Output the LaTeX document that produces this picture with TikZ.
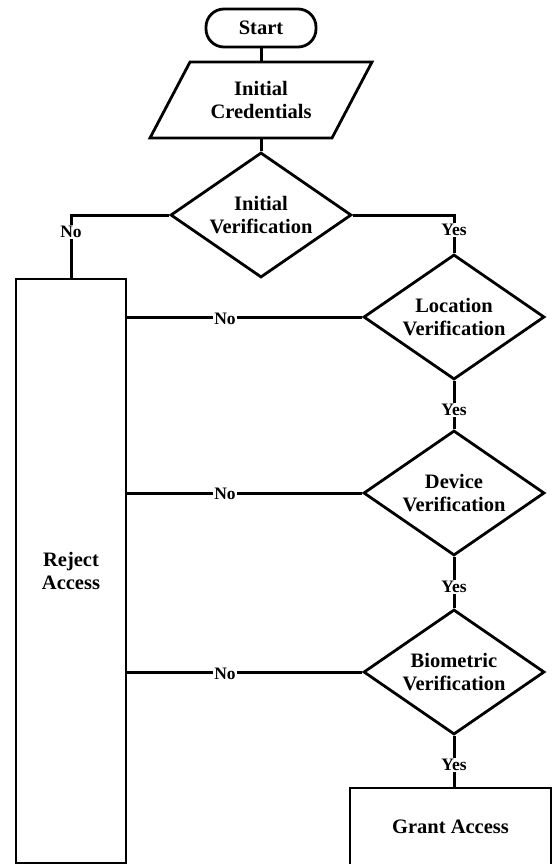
\documentclass[tikz,border=0pt]{standalone}
\usepackage{fontspec}
\setmainfont{Liberation Serif}
\usetikzlibrary{shapes.geometric}
\tikzset{
  every node/.style={font=\fontsize{20.5}{23}\selectfont\bfseries, align=center},
  conn/.style={line width=3pt},
  shp/.style={draw, line width=2.8pt, fill=white},
  decision/.style={shp, diamond, inner sep=0pt, aspect=1.45, minimum width=181pt, minimum height=125pt},
  terminal/.style={shp, rectangle, rounded corners=18pt, minimum width=110pt, minimum height=38pt},
  procbox/.style={shp, rectangle},
  lbl/.style={fill=white, inner sep=1.5pt, font=\fontsize{17.5}{19}\selectfont\bfseries},
}
\begin{document}
\begin{tikzpicture}[x=1pt,y=-1pt]
\useasboundingbox (0,0) rectangle (555,864);
\node[terminal] (start) at (261,28) {Start};
\coordinate (credT) at (261,62);
\coordinate (credB) at (261,138);
\draw[line width=2.8pt, line join=miter] (190,62) -- (372,62) -- (332,138) -- (150,138) -- cycle;
\node (cred) at (261,100) {Initial\\Credentials};
\node[decision] (iv) at (261,215) {Initial\\Verification};
\node[decision] (loc) at (454,317) {Location\\Verification};
\node[decision] (dev) at (454,493) {Device\\Verification};
\node[decision] (bio) at (454,672) {Biometric\\Verification};
\node[procbox, minimum width=110pt, minimum height=584pt] (reject) at (71,571) {Reject\\Access};
\node[procbox, minimum width=201pt, minimum height=78pt] (grant) at (450.5,827) {Grant Access};

\draw[conn] (start.south) -- (credT);
\draw[conn] (credB) -- (iv.north);
\draw[conn] (iv.west) -| (reject.north);
\draw[conn] (iv.east) -| (loc.north);
\draw[conn] (loc.south) -- (dev.north);
\draw[conn] (dev.south) -- (bio.north);
\draw[conn] (bio.south) -- (bio.south |- grant.north);
\draw[conn] (reject.east |- loc.west) -- (loc.west);
\draw[conn] (reject.east |- dev.west) -- (dev.west);
\draw[conn] (reject.east |- bio.west) -- (bio.west);

\node[lbl] (n1) at (71,232) {No};
\node[lbl] (y1) at (454,230) {Yes};
\node[lbl] (y2) at (454,410) {Yes};
\node[lbl] (y3) at (454,587) {Yes};
\node[lbl] (y4) at (454,765) {Yes};
\node[lbl] (n2) at (225,319) {No};
\node[lbl] (n3) at (225,494) {No};
\node[lbl] (n4) at (225,674) {No};
\end{tikzpicture}
\end{document}
